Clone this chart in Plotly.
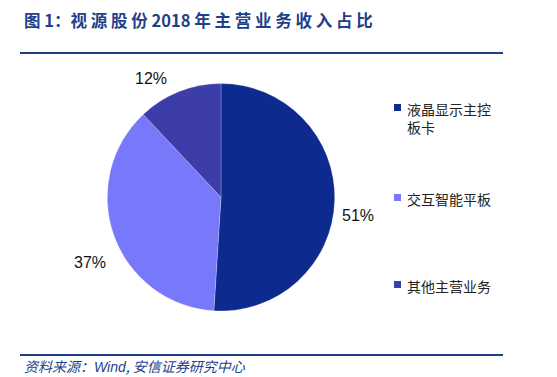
import math
import plotly.graph_objects as go

categories = ["液晶显示主控<br>板卡", "交互智能平板", "其他主营业务"]
values = [51, 37, 12]
colors = ["#0d2a8e", "#7878fa", "#3d3daa"]

W, H = 557, 377
CX, CY, R = 221, 197.3, 113.7  # pie centre / radius in pixels
fig = go.Figure()
fig.add_trace(go.Pie(
    labels=categories, values=values, sort=False, direction="clockwise", rotation=0,
    marker=dict(colors=colors, line=dict(color="rgba(255,255,255,0.45)", width=0.5)),
    textposition="none", textinfo="none",
    showlegend=False, hoverinfo="label+value",
    domain=dict(x=[(CX-R)/W, (CX+R)/W], y=[1-(CY+R)/H, 1-(CY-R)/H]),
))

# percentage labels, placed at the slice mid-angles, with small nudges
nudges = [(-1, 14), (-1, 19), (-19, 9)]
total = sum(values)
ann = []
cum = 0
for v, (nx, ny) in zip(values, nudges):
    mid = (cum + v / 2) / total * 2 * math.pi
    cum += v
    px = CX + (R + 24) * math.sin(mid) + nx
    py = CY - (R + 24) * math.cos(mid) + ny
    ann.append(dict(x=px/W, y=1-py/H, xref="paper", yref="paper", xanchor="center", yanchor="middle",
                    text=f"{v}%", showarrow=False,
                    font=dict(family="Liberation Sans, Arial", size=16, color="#111")))

title = "图 1：视 源 股 份 <b>2018</b> 年 主 营 业 务 收 入 占 比"
ann += [
    dict(x=22/W, y=1-20/H, xref="paper", yref="paper", xanchor="left", yanchor="middle",
         text="<b>" + title + "</b>", showarrow=False,
         font=dict(family="Noto Sans CJK SC, Liberation Sans", size=16.5, color="#1f3f8a")),
    dict(x=22/W, y=1-366/H, xref="paper", yref="paper", xanchor="left", yanchor="middle",
         text="<i>资料来源：<span style='font-family:Liberation Sans'>Wind</span>, 安信证券研究中心</i>", showarrow=False,
         font=dict(family="Noto Sans CJK SC, Liberation Sans", size=14, color="#1f3f8a")),
]
legend_y = [107, 197, 284]
shapes = [
    dict(type="line", xref="paper", yref="paper", x0=20/W, x1=503/W, y0=1-53/H, y1=1-53/H,
         line=dict(color="#1f3f86", width=2)),
    dict(type="line", xref="paper", yref="paper", x0=20/W, x1=503/W, y0=1-355/H, y1=1-355/H,
         line=dict(color="#1f3f86", width=2)),
]
for cat, col, ly in zip(categories, colors, legend_y):
    shapes.append(dict(type="rect", xref="paper", yref="paper",
                       x0=394/W, x1=401/W, y0=1-(ly+4)/H, y1=1-(ly-3)/H,
                       fillcolor=col, line=dict(width=0)))
    ann.append(dict(x=405/W, y=1-(ly-10)/H, xref="paper", yref="paper", xanchor="left", yanchor="top",
                    align="left", text=cat, showarrow=False,
                    font=dict(family="Noto Sans CJK SC", size=14, color="#222")))

fig.update_layout(width=W, height=H, margin=dict(l=0, r=0, t=0, b=0),
                  paper_bgcolor="white", plot_bgcolor="white",
                  annotations=ann, shapes=shapes)
fig.write_html("out.html", config={"displayModeBar": False},
               post_script="document.body.style.margin='0';document.body.style.overflow='hidden';")
